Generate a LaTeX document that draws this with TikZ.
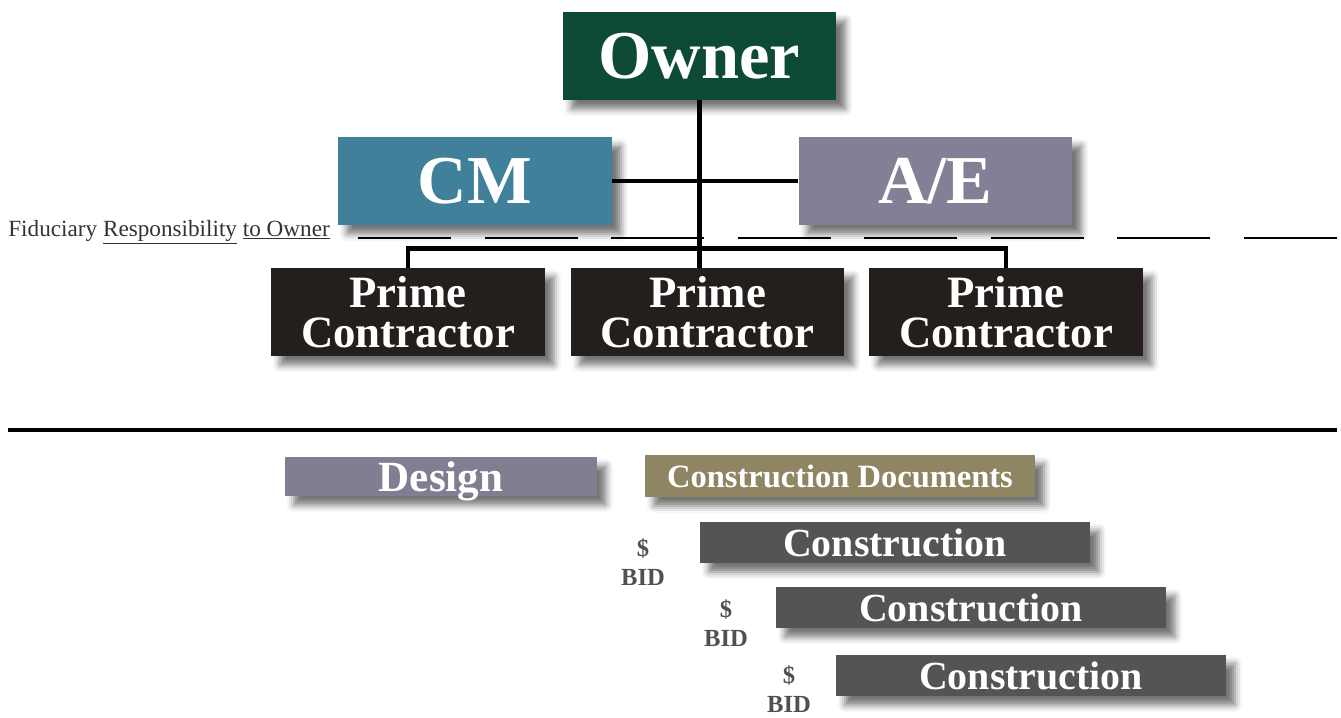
\documentclass[tikz,border=0pt]{standalone}
\usepackage{fontspec}
\setmainfont{Liberation Serif}
\usepackage{tikz}
\usetikzlibrary{calc, positioning, shadows, shadows.blur}

\definecolor{ownergreen}{RGB}{13,75,55}
\definecolor{cmblue}{RGB}{64,128,155}
\definecolor{aegray}{RGB}{130,128,150}
\definecolor{primedark}{RGB}{36,31,28}
\definecolor{designgray}{RGB}{128,127,146}
\definecolor{docskhaki}{RGB}{143,133,99}
\definecolor{constgray}{RGB}{84,84,84}
\definecolor{bidgray}{RGB}{80,80,80}

\begin{document}
\begin{tikzpicture}[x=0.02cm, y=-0.02cm,
			box/.style={rectangle, inner sep=0pt, text=white,
				blur shadow={shadow xshift=5pt, shadow yshift=-5pt, shadow blur radius=4pt, shadow opacity=55}},
			bigbox/.style={box, minimum width=5.48cm, minimum height=1.76cm, font=\bfseries\fontsize{39}{40}\selectfont},
			primebox/.style={box, fill=primedark, minimum width=5.48cm, minimum height=1.76cm, align=center, font=\bfseries\fontsize{25.5}{23}\selectfont},
			bar/.style={box, minimum width=7.8cm, minimum height=0.82cm},
			l_2/.style={line width=2.8pt}]
			\useasboundingbox (0,0) rectangle (1341,717);
			
			% fiduciary line
			\draw[line width=1.2pt, dash pattern=on 53pt off 19pt] (358,238) -- (1341,238);
			\node[anchor=base west, inner sep=0pt, text=black!80, font=\fontsize{13.2}{15}\selectfont] (fid) at (8,236) {Fiduciary \underline{Responsibility} \underline{to Owner}};
			
			% org chart
			\node[bigbox, fill=ownergreen] (owner) at (699.5,56) {Owner};
			\node[bigbox, fill=cmblue] (cm) at (475,181) {CM};
			\node[bigbox, fill=aegray] (ae) at (935.5,181) {A/E};
			\foreach \x [count=\p] in {408,707.5,1006} {
				\node[primebox] (p\p) at (\x,312) {Prime\\Contractor};
			};
			
			\draw[l_2] (cm.east) -- (ae.west);
			\draw[l_2] (owner.south) -- (owner.south |- p2.north);
			\draw[l_2] (p1.north) -- ++(0,-19) -| (p3.north);
			
			% separator
			\coordinate (sepL) at (8,430);
			\coordinate (sepR) at (1337,430);
			\draw[line width=2.3pt] (sepL) -- (sepR);
			
			% schedule
			\node[box, fill=designgray, minimum width=6.24cm, minimum height=0.78cm, text depth=0pt, font=\bfseries\fontsize{24.5}{26}\selectfont] (design) at (441,476.5) {Design};
			\node[bar, fill=docskhaki, minimum height=0.84cm, font=\bfseries\fontsize{18.5}{20}\selectfont] (docs) at (840,476) {Construction Documents};
			\foreach \x/\y/\bx/\by [count=\p] in {895/542.5/643/562, 971/607.5/726/623, 1031/675.5/789/689} {
				\node[bar, fill=constgray, font=\bfseries\fontsize{22.7}{24}\selectfont] (c\p) at (\x,\y) {Construction};
				\node[align=center, text=bidgray, inner sep=0pt, font=\bfseries\fontsize{14}{16.5}\selectfont] (bid\p) at (\bx,\by) {\$\\BID};
			};
		\end{tikzpicture}
\end{document}
